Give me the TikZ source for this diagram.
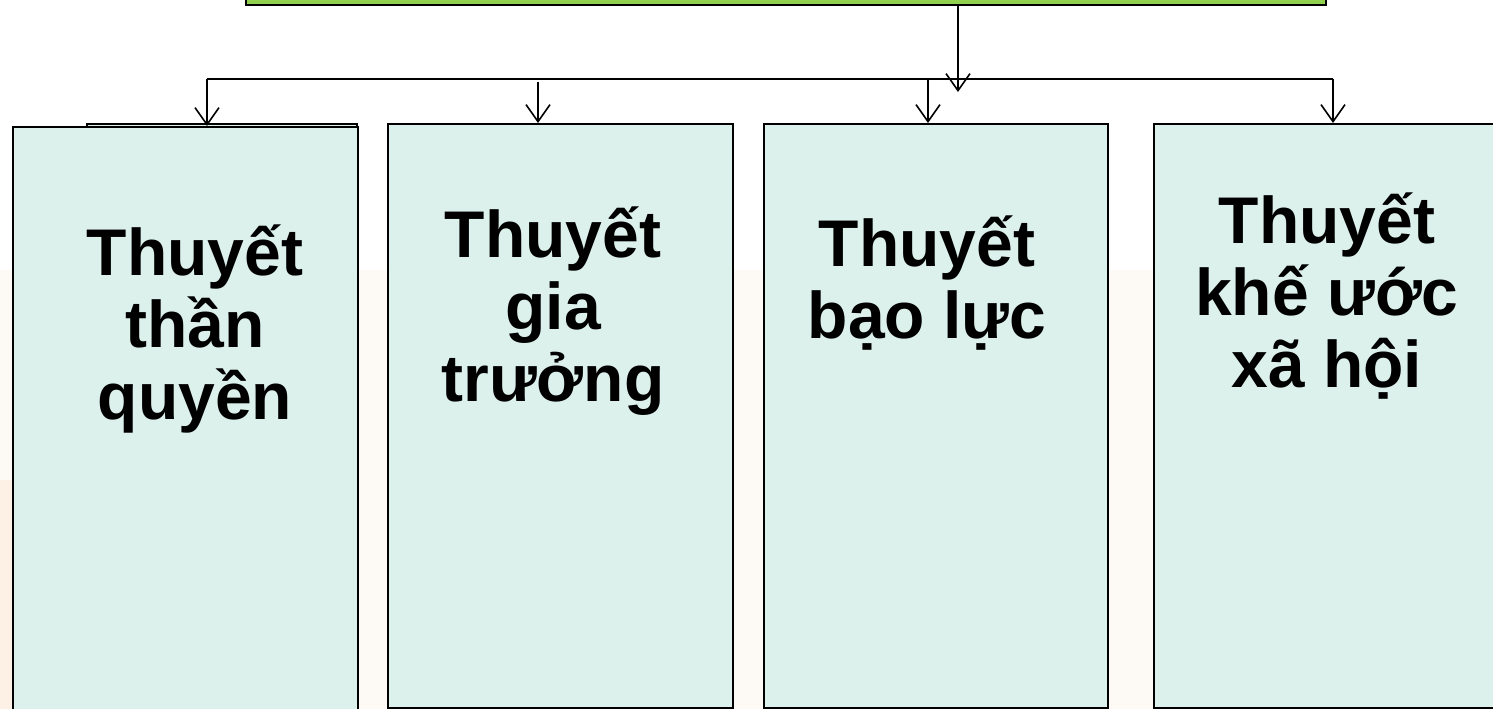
\documentclass[tikz,border=0pt]{standalone}
\usepackage{fontspec}
\setmainfont{Liberation Sans}
\usetikzlibrary{arrows.meta}
\definecolor{topgreen}{HTML}{92D050}
\definecolor{boxfill}{HTML}{DDF1EC}
\definecolor{warmA}{HTML}{FDFAF6}
\definecolor{warmB}{HTML}{FCF1E4}
\tikzset{
  theory/.style={draw=black, line width=1.8pt, fill=boxfill},
  % base anchor of a multi-line label sits on its last line
  label/.style={font=\bfseries\fontsize{66}{72}\selectfont, align=center, anchor=base, inner sep=0pt},
  link/.style={line width=1.6pt},
  down/.style={link, -{Straight Barb[length=17pt,width=24pt,line width=1.6pt]}}
}
\begin{document}
\begin{tikzpicture}[x=1pt,y=-1pt]
\useasboundingbox (0,0) rectangle (1493,709);
\clip (0,0) rectangle (1493,709);
\fill[white] (0,0) rectangle (1493,709);
% warm tint of the page behind the columns
\fill[warmA] (0,270) rectangle (1493,709);
\fill[warmB] (0,480) rectangle (12,709);

% heading box, mostly above the page edge
\node[draw=black, line width=2pt, fill=topgreen, minimum width=1080pt, minimum height=60pt,
      anchor=south west, inner sep=0pt] (head) at (245,6) {};

% four theory columns
\fill[boxfill, draw=black, line width=1.8pt] (87,124) rectangle (357,720);
\node[theory, anchor=north west, minimum width=345pt, minimum height=600pt, inner sep=0pt] (c1) at (12,126) {};
\node[theory, anchor=north west, minimum width=345pt, minimum height=584pt, inner sep=0pt] (c2) at (387,123) {};
\node[theory, anchor=north west, minimum width=344pt, minimum height=584pt, inner sep=0pt] (c3) at (763,123) {};
\node[theory, anchor=north west, minimum width=360pt, minimum height=584pt, inner sep=0pt] (c4) at (1153,123) {};

\node[label] (t1) at (195,419) {Thuyết\\thần\\quyền};
\node[label] (t2) at (553,401) {Thuyết\\gia\\trưởng};
\node[label] (t3) at (927,338) {Thuyết\\bạo lực};
\node[label] (t4) at (1327,387) {Thuyết\\khế ước\\xã hội};

% branching connector
\coordinate (hl) at (207,79);
\coordinate (hr) at (1333,79);
\coordinate (b2) at (538,82);
\coordinate (b3) at (928,79);
\draw[link] (hl) -- (hr);
\draw[down] (head.south -| 958,0) -- (958,92);
\draw[down] (hl) -- (hl |- c1.north);
\draw[down] (b2) -- (b2 |- c2.north);
\draw[down] (b3) -- (b3 |- c3.north);
\draw[down] (hr) -- (hr |- c4.north);
\end{tikzpicture}
\end{document}
